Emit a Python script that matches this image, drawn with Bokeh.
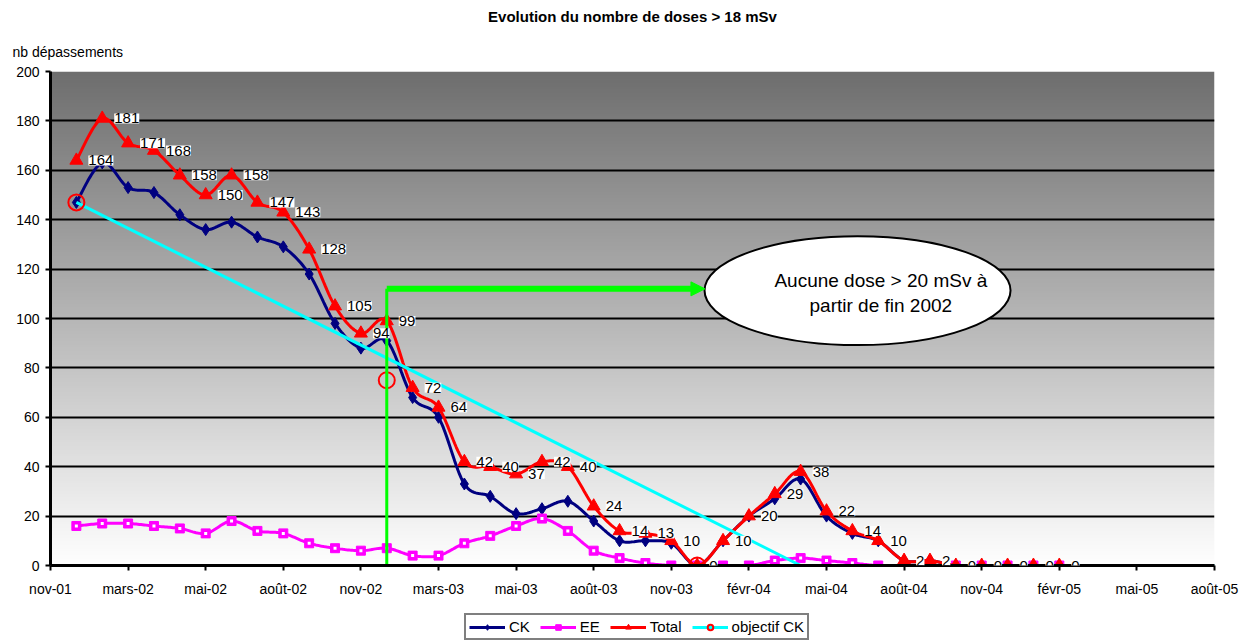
import numpy as np
from bokeh.plotting import figure
from bokeh.layouts import column
from bokeh.core.properties import value
from bokeh.models import (Range1d, FixedTicker, Label, LabelSet, ColumnDataSource,
                          Legend, LegendItem, Arrow, NormalHead, Title)
from bokeh.embed import file_html
from bokeh.resources import INLINE

FONT = "Liberation Sans"

# Months counted from nov-01 (= 0); one value per month from dec-01 onwards
months = list(range(1, 40))
ck = [147, 163, 153, 151, 142, 136, 139, 133, 129, 118, 98, 88, 91, 68, 60,
      33, 28, 21, 23, 26, 18, 10, 10, 9, 0, 10, 20, 27, 35, 20, 13, 10, 2, 2,
      0, 0, 0, 0, 0]
ee = [16, 17, 17, 16, 15, 13, 18, 14, 13, 9, 7, 6, 7, 4, 4, 9, 12, 16, 19,
      14, 6, 3, 1, 0, 0, 0, 0, 2, 3, 2, 1, 0, 0, 0, 0, 0, 0, 0, 0]
total = [164, 181, 171, 168, 158, 150, 158, 147, 143, 128, 105, 94, 99, 72,
         64, 42, 40, 37, 42, 40, 24, 14, 13, 10, 0, 10, 20, 29, 38, 22, 14,
         10, 2, 2, 0, 0, 0, 0, 0]

# Target for CK: straight decrease, then zero
obj_line_months = [1, 29, 45]
obj_line_values = [147, 0, 0]
obj_mark_months = [1, 13, 25]
obj_mark_values = [147, 75, 0]

tick_months = list(range(0, 46, 3))
tick_labels = ["nov-01", "mars-02", "mai-02", "août-02", "nov-02", "mars-03",
               "mai-03", "août-03", "nov-03", "févr-04", "mai-04", "août-04",
               "nov-04", "févr-05", "mai-05", "août-05"]
y_ticks = list(range(0, 201, 20))
grid_levels = list(range(20, 181, 20))

# "no dose > 20 mSv" milestone (end of 2002)
milestone_month = 13
milestone_level = 112
arrow_end_month = 25.3

series_style = {
    "CK": dict(color="#000080", marker="diamond", size=12),
    "EE": dict(color="#FF00FF", marker="square", size=9),
    "Total": dict(color="#FF0000", marker="triangle", size=13),
}


def smooth(xs, ys, steps=16):
    """Smoothed path through the points (cubic Bezier, Catmull-Rom tangents)."""
    x = np.asarray(xs, float)
    y = np.asarray(ys, float)
    px = np.concatenate([[x[0]], x, [x[-1]]])
    py = np.concatenate([[y[0]], y, [y[-1]]])
    t = np.linspace(0, 1, steps + 1)[1:]
    ox, oy = [x[0]], [y[0]]
    for i in range(len(x) - 1):
        p0 = np.array([px[i], py[i]])
        p1 = np.array([px[i + 1], py[i + 1]])
        p2 = np.array([px[i + 2], py[i + 2]])
        p3 = np.array([px[i + 3], py[i + 3]])
        c1 = p1 + (p2 - p0) / 6.0
        c2 = p2 - (p3 - p1) / 6.0
        for tt in t:
            a = (1 - tt) ** 3
            b = 3 * (1 - tt) ** 2 * tt
            c = 3 * (1 - tt) * tt ** 2
            d = tt ** 3
            pt = a * p1 + b * c1 + c * c2 + d * p2
            ox.append(pt[0])
            oy.append(pt[1])
    return ox, oy


def draw_series(fig, name, xs, ys):
    st = series_style[name]
    sx, sy = smooth(xs, ys)
    ln = fig.line(sx, sy, line_color=st["color"], line_width=3)
    mk = fig.scatter(xs, ys, marker=st["marker"], size=st["size"],
                     fill_color=st["color"], line_color=st["color"])
    return ln, mk


def draw_objective(fig, mark_size):
    ln = fig.line(obj_line_months, obj_line_values, line_color="#00FFFF", line_width=3)
    mk = fig.scatter(obj_mark_months, obj_mark_values, marker="circle", size=mark_size,
                     fill_color=None, line_color="#FF0000", line_width=2)
    return ln, mk


p = figure(width=1254, height=600, x_range=Range1d(0, 45), y_range=Range1d(0, 200),
           output_backend="svg", toolbar_location=None,
           min_border_left=50, min_border_right=40, min_border_top=71,
           min_border_bottom=35, outline_line_color=None,
           background_fill_color="white", border_fill_color="white")

# plot-area gradient: dark grey at the top fading to white at the bottom
rows = 400
shade = np.linspace(255, 110, rows).astype(np.uint32)
grad = np.empty((rows, 1), dtype=np.uint32)
view = grad.view(dtype=np.uint8).reshape((rows, 1, 4))
view[:, 0, 0] = shade
view[:, 0, 1] = shade
view[:, 0, 2] = shade
view[:, 0, 3] = 255
img = p.image_rgba(image=[grad], x=0, y=0, dw=45, dh=200)
img.level = "image"

p.xgrid.visible = False
p.ygrid.ticker = FixedTicker(ticks=grid_levels)
p.ygrid.grid_line_color = "black"
p.ygrid.grid_line_width = 2

for ax in (p.xaxis[0], p.yaxis[0]):
    ax.axis_line_color = "black"
    ax.axis_line_width = 3
    ax.major_tick_line_color = "black"
    ax.major_tick_line_width = 2
    ax.major_tick_in = 0
    ax.major_tick_out = 5
    ax.minor_tick_line_color = None
    ax.major_label_text_font = FONT
    ax.major_label_text_font_size = "14px"
    ax.major_label_text_color = "black"

p.yaxis.ticker = FixedTicker(ticks=y_ticks)
p.yaxis.major_label_standoff = 6
p.xaxis.ticker = FixedTicker(ticks=tick_months)
p.xaxis.major_label_overrides = {m: lab for m, lab in zip(tick_months, tick_labels)}
p.xaxis.major_label_standoff = 10

draw_series(p, "CK", months, ck)
draw_series(p, "EE", months, ee)
p.scatter(months, ee, marker="square", size=3, fill_color="white", line_color=None)
draw_series(p, "Total", months, total)
draw_objective(p, 16)

# milestone marker and arrow
p.segment(x0=[milestone_month], y0=[0], x1=[milestone_month], y1=[milestone_level],
          line_color="#00FF00", line_width=3)
p.add_layout(Arrow(x_start=milestone_month, y_start=milestone_level,
                   x_end=arrow_end_month, y_end=milestone_level,
                   line_color="#00FF00", line_width=6,
                   end=NormalHead(size=14, fill_color="#00FF00", line_color="#00FF00")))

# value labels on the total
src = ColumnDataSource(dict(x=months, y=total, t=[str(v) for v in total]))
p.add_layout(LabelSet(x="x", y="y", text="t", source=src, x_offset=12,
                      text_baseline="middle", text_align="left",
                      text_font=value(FONT), text_font_size=value("15px"),
                      text_color="black", background_fill_color="white"))

# callout
p.ellipse(x=[31.2], y=[111.3], width=[11.83], height=[44.1],
          fill_color="white", line_color="black", line_width=2)
p.add_layout(Label(x=32.1, y=115.5, text="Aucune dose > 20 mSv à",
                   text_align="center", text_baseline="middle",
                   text_font=FONT, text_font_size="19px", text_color="black"))
p.add_layout(Label(x=32.1, y=105.3, text="partir de fin 2002",
                   text_align="center", text_baseline="middle",
                   text_font=FONT, text_font_size="19px", text_color="black"))

# titles (the later one sits higher)
p.add_layout(Title(text="nb dépassements", align="left", offset=-38, standoff=24,
                   text_font=FONT, text_font_size="14px", text_font_style="normal",
                   text_color="black"), "above")
p.add_layout(Title(text="Evolution du nombre de doses > 18 mSv", align="center",
                   standoff=10, text_font=FONT, text_font_size="15px",
                   text_font_style="bold", text_color="black"), "above")

# legend strip under the chart; its ranges keep the series themselves out of view
leg = figure(width=1254, height=43, x_range=Range1d(-2, -1), y_range=Range1d(-2, -1),
             output_backend="svg", toolbar_location=None,
             x_axis_type=None, y_axis_type=None, outline_line_color=None,
             min_border_left=0, min_border_right=0, min_border_top=0,
             min_border_bottom=0, background_fill_color="white",
             border_fill_color="white")
leg.xgrid.visible = False
leg.ygrid.visible = False
ck_l, ck_m = draw_series(leg, "CK", months, ck)
ee_l, ee_m = draw_series(leg, "EE", months, ee)
to_l, to_m = draw_series(leg, "Total", months, total)
ob_l, ob_m = draw_objective(leg, 12)

legend = Legend(items=[
    LegendItem(label="CK", renderers=[ck_l, ck_m]),
    LegendItem(label="EE", renderers=[ee_l, ee_m]),
    LegendItem(label="Total", renderers=[to_l, to_m]),
    LegendItem(label="objectif CK", renderers=[ob_l, ob_m]),
], orientation="horizontal", location=(414, 3))
legend.border_line_color = "black"
legend.border_line_width = 2
legend.background_fill_color = "white"
legend.background_fill_alpha = 1
legend.label_text_font = FONT
legend.label_text_font_size = "15px"
legend.label_text_color = "black"
legend.label_height = 16
legend.glyph_width = 36
legend.glyph_height = 14
legend.label_standoff = 4
legend.spacing = 10
legend.padding = 3
legend.margin = 0
leg.add_layout(legend)

page = column(p, leg, spacing=0)
open("out.html", "w").write(file_html(page, INLINE))
